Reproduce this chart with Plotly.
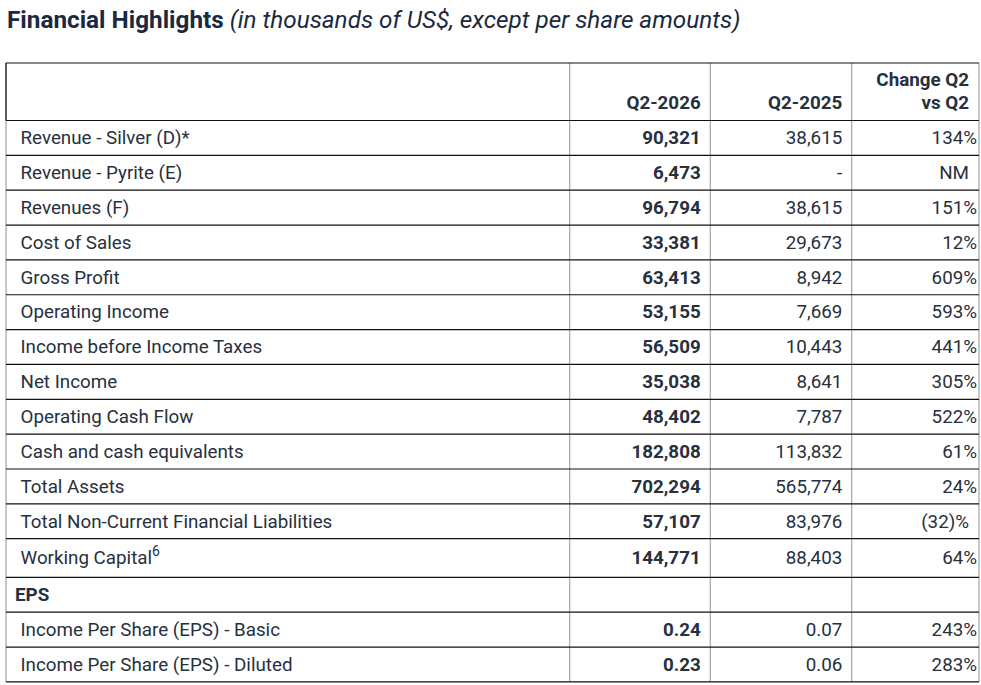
import plotly.graph_objects as go

# table data
labels = ["Revenue - Silver (D)*", "Revenue - Pyrite (E)", "Revenues (F)", "Cost of Sales",
          "Gross Profit", "Operating Income", "Income before Income Taxes", "Net Income",
          "Operating Cash Flow", "Cash and cash equivalents", "Total Assets",
          "Total Non-Current Financial Liabilities", "Working Capital<sup>6</sup>", "EPS",
          "Income Per Share (EPS) - Basic", "Income Per Share (EPS) - Diluted"]
q2_2026 = ["90,321", "6,473", "96,794", "33,381", "63,413", "53,155", "56,509", "35,038",
           "48,402", "182,808", "702,294", "57,107", "144,771", "", "0.24", "0.23"]
q2_2025 = ["38,615", "-", "38,615", "29,673", "8,942", "7,669", "10,443", "8,641",
           "7,787", "113,832", "565,774", "83,976", "88,403", "", "0.07", "0.06"]
change = ["134%", "NM", "151%", "12%", "609%", "593%", "441%", "305%",
          "522%", "61%", "24%", "(32)%", "64%", "", "243%", "283%"]
headers = ["", "Q2-2026", "Q2-2025", "Change Q2<br>vs Q2"]
title = "<b>Financial Highlights</b> <i>(in thousands of US$, except per share amounts)</i>"

# layout in pixels (axes are set up 1 unit = 1 px)
W, H = 981, 685
edges = [6, 569.7, 710.3, 851.7, 979]
TOP, HEAD_BOT = 63, 120.5
ROW_H = 34.85
FONT, FS = "Roboto", 18.8
TXT = "#27303d"

heights = [ROW_H + (3.8 if "<sup>" in s else 0) for s in labels]
bounds = [HEAD_BOT]
for h in heights:
    bounds.append(bounds[-1] + h)
mids = [(a + b) / 2 + 1.6 for a, b in zip(bounds[:-1], bounds[1:])]
section = [v == "" for v in q2_2026]

fig = go.Figure()


def add_text(xs, ys, texts, pos):
    # skip empty cells
    keep = [i for i, t in enumerate(texts) if t]
    fig.add_trace(go.Scatter(x=[xs[i] for i in keep], y=[ys[i] for i in keep],
                             text=[texts[i] for i in keep], mode="text", textposition=pos,
                             textfont=dict(family=FONT, size=FS, color=TXT),
                             hoverinfo="skip", showlegend=False))


# header, lines aligned to bottom of header cell
hx, hy, ht = [], [], []
right_x = [None, edges[2] - 9.6, edges[3] - 9.4, edges[4] - 10]
for i, h in enumerate(headers):
    if not h:
        continue
    parts = h.split("<br>")
    for k, p in enumerate(reversed(parts)):
        hx.append(right_x[i])
        hy.append(HEAD_BOT - 16.2 - 23 * k)
        ht.append("<b>%s</b>" % p)
add_text(hx, hy, ht, "middle left")

# row labels
lab_txt = []
for t, s in zip(labels, section):
    t = t.replace("<sup>", "<sup><span style='font-size:14px'>").replace("</sup>", "</span></sup>")
    lab_txt.append(("<b>%s</b>" % t) if s else t)
add_text([15 if s else 20.5 for s in section], mids, lab_txt, "middle right")

# value columns
n = len(labels)
add_text([right_x[1]] * n, mids, [("<b>%s</b>" % v) if v else "" for v in q2_2026], "middle left")
add_text([right_x[2]] * n, mids, q2_2025, "middle left")
add_text([edges[4] - 2 if v[-2:-1].isdigit() else edges[4] - 10 for v in change],
         mids, change, "middle left")

# grid: grey verticals, black horizontals, black left edge on header
for x in edges:
    fig.add_shape(type="line", x0=x, x1=x, y0=TOP, y1=bounds[-1],
                  line=dict(color="#a3a3a3", width=1.2))
fig.add_shape(type="line", x0=edges[0], x1=edges[0], y0=TOP, y1=HEAD_BOT,
              line=dict(color="#111111", width=1.2))
for y in [TOP] + bounds:
    fig.add_shape(type="line", x0=edges[0], x1=edges[-1], y0=y, y1=y,
                  line=dict(color="#111111", width=1.2))

fig.update_xaxes(range=[0, W], visible=False, fixedrange=True)
fig.update_yaxes(range=[H, 0], visible=False, fixedrange=True)
fig.update_layout(
    width=W, height=H, margin=dict(l=0, r=0, t=0, b=0),
    paper_bgcolor="white", plot_bgcolor="white",
    title=dict(text=title, x=7 / W, xanchor="left", y=1 - 19.3 / H, yanchor="middle",
               font=dict(family=FONT, size=24.3, color="#1b2940")),
)

fig.write_html("out.html", config={"displayModeBar": False},
               post_script="document.body.style.margin='0';")
